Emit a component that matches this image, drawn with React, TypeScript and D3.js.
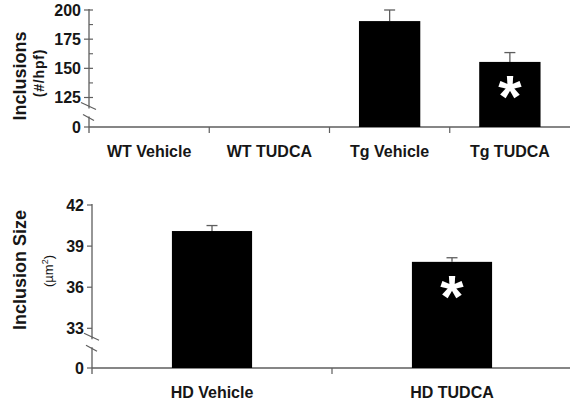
import React from "react";
import * as d3 from "d3";

const topCats = ["WT Vehicle", "WT TUDCA", "Tg Vehicle", "Tg TUDCA"];
const topMeans = [0, 0, 190.5, 155.5];
const topErrs = [0, 0, 9.5, 8];
const topSig = [false, false, false, true];
const topTicks = [200, 175, 150, 125];
const topMinor = [187.5, 162.5, 137.5];

const botCats = ["HD Vehicle", "HD TUDCA"];
const botMeans = [40.1, 37.85];
const botErrs = [0.4, 0.3];
const botSig = [false, true];
const botTicks = [42, 39, 36, 33];

const FONT = "'Liberation Sans', Arial, Helvetica, sans-serif";
const AX = "#5e5e5e";
const TXT = "#161616";

type PanelProps = {
  cats: string[];
  means: number[];
  errs: number[];
  sig: boolean[];
  ticks: number[];
  minor: number[];
  domain: [number, number];
  yTop: number;
  yLow: number;
  y0: number;
  xLeft: number;
  xRight: number;
  barPad: number;
  bothSideTicks: boolean;
  labelY: number;
  title: string;
  unit: React.ReactNode;
  titleY: number;
  unitX: number;
  unitY: number;
  unitBold: boolean;
  unitSize: number;
  unitSpacing: number;
};

function Panel(p: PanelProps) {
  const y = d3.scaleLinear().domain(p.domain).range([p.yLow, p.yTop]);
  const x = d3
    .scaleBand<string>()
    .domain(p.cats)
    .range([p.xLeft, p.xRight])
    .paddingInner(p.barPad)
    .paddingOuter(p.barPad / 2);
  const step = x.step();
  const ax = p.xLeft;
  const breakA = p.yLow + 10;
  const breakB = p.yLow + 22;
  return (
    <g>
      <line x1={ax} x2={ax} y1={p.yTop - 1} y2={breakA + 1} stroke={AX} strokeWidth={1.3} />
      <line x1={ax} x2={ax} y1={breakB - 3} y2={p.y0 + 6} stroke={AX} strokeWidth={1.3} />
      <line x1={ax - 8} x2={ax + 7} y1={breakA - 5} y2={breakA + 2} stroke={AX} strokeWidth={1.2} />
      <line x1={ax - 6} x2={ax + 5} y1={breakB - 5} y2={breakB + 1} stroke={AX} strokeWidth={1.2} />
      {p.ticks.map((t) => (
        <g key={t}>
          <line
            x1={ax - 5}
            x2={p.bothSideTicks ? ax + 4 : ax}
            y1={y(t)}
            y2={y(t)}
            stroke={AX}
            strokeWidth={1.2}
          />
          <text
            x={ax - 8}
            y={y(t)}
            dy="0.36em"
            textAnchor="end"
            fontFamily={FONT}
            fontWeight="bold"
            fontSize={16}
            fill={TXT}
          >
            {t}
          </text>
        </g>
      ))}
      {p.minor.map((t) => (
        <line key={t} x1={ax} x2={ax + 4} y1={y(t)} y2={y(t)} stroke={AX} strokeWidth={1.1} />
      ))}
      <line x1={ax - 5} x2={ax} y1={p.y0} y2={p.y0} stroke={AX} strokeWidth={1.2} />
      <text
        x={ax - 8}
        y={p.y0}
        dy="0.36em"
        textAnchor="end"
        fontFamily={FONT}
        fontWeight="bold"
        fontSize={16}
        fill={TXT}
      >
        0
      </text>
      <line x1={ax} x2={p.xRight} y1={p.y0} y2={p.y0} stroke={AX} strokeWidth={1.3} />
      {p.cats.map((c, i) =>
        i > 0 ? (
          <line
            key={"t" + c}
            x1={p.xLeft + step * i}
            x2={p.xLeft + step * i}
            y1={p.y0}
            y2={p.y0 + 6}
            stroke={AX}
            strokeWidth={1.2}
          />
        ) : null
      )}
      {p.cats.map((c, i) => {
        const v = p.means[i];
        if (v <= 0) return null;
        const top = y(v);
        const cx = (x(c) as number) + x.bandwidth() / 2;
        const et = y(v + p.errs[i]);
        return (
          <g key={c}>
            <line x1={cx} x2={cx} y1={top} y2={et} stroke={AX} strokeWidth={1.3} />
            <line x1={cx - 5.5} x2={cx + 5.5} y1={et} y2={et} stroke={AX} strokeWidth={1.3} />
            <rect x={x(c)} y={top} width={x.bandwidth()} height={p.y0 - top} fill="#000" />
            {p.sig[i] ? (
              <text
                x={cx}
                y={top + 22 + 33}
                textAnchor="middle"
                fontFamily={FONT}
                fontWeight="bold"
                fontSize={60}
                fill="#fff"
              >
                *
              </text>
            ) : null}
          </g>
        );
      })}
      {p.cats.map((c) => (
        <text
          key={"l" + c}
          x={(x(c) as number) + x.bandwidth() / 2}
          y={p.labelY}
          textAnchor="middle"
          fontFamily={FONT}
          fontWeight="bold"
          fontSize={16}
          fill={TXT}
        >
          {c}
        </text>
      ))}
      <text
        transform={`translate(25.5,${p.titleY}) rotate(-90)`}
        textAnchor="middle"
        fontFamily={FONT}
        fontWeight="bold"
        fontSize={18}
        fill={TXT}
      >
        {p.title}
      </text>
      <text
        transform={`translate(${p.unitX},${p.unitY}) rotate(-90)`}
        textAnchor="middle"
        fontFamily={FONT}
        fontWeight={p.unitBold ? "bold" : "normal"}
        fontSize={p.unitSize}
        letterSpacing={p.unitSpacing}
        fill={TXT}
      >
        {p.unit}
      </text>
    </g>
  );
}

export default function App() {
  return (
    <svg
      width={570}
      height={400}
      style={{ position: "absolute", left: 0, top: 0, background: "#fff" }}
    >
      <Panel
        cats={topCats}
        means={topMeans}
        errs={topErrs}
        sig={topSig}
        ticks={topTicks}
        minor={topMinor}
        domain={[125, 200]}
        yTop={10}
        yLow={97.5}
        y0={127}
        xLeft={89}
        xRight={570}
        barPad={0.49}
        bothSideTicks={true}
        labelY={157}
        title="Inclusions"
        unit="(#/hpf)"
        titleY={76}
        unitX={44}
        unitY={73}
        unitBold={true}
        unitSize={14}
        unitSpacing={0.8}
      />
      <Panel
        cats={botCats}
        means={botMeans}
        errs={botErrs}
        sig={botSig}
        ticks={botTicks}
        minor={[]}
        domain={[33, 42]}
        yTop={205}
        yLow={328.3}
        y0={368}
        xLeft={92}
        xRight={572}
        barPad={0.666}
        bothSideTicks={false}
        labelY={398}
        title="Inclusion Size"
        unit={
          <>
            (µm
            <tspan fontSize={9} dy={-5}>
              2
            </tspan>
            <tspan dy={5}>)</tspan>
          </>
        }
        titleY={270}
        unitX={53}
        unitY={271}
        unitBold={false}
        unitSize={13}
        unitSpacing={0}
      />
    </svg>
  );
}
